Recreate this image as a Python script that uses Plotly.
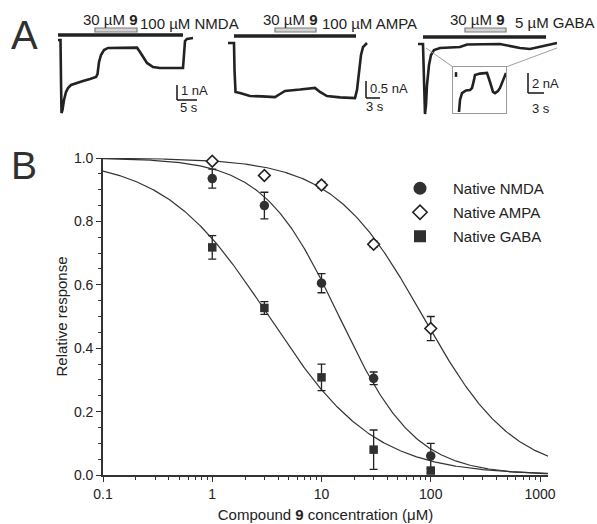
import numpy as np
import plotly.graph_objects as go

W, H = 597, 524
FONT = "Liberation Sans, Arial, Helvetica, sans-serif"
INK = "#222222"
GREY = "#7a7a7a"

# ---------------- Panel B data ----------------
conc = [1, 3, 10, 30, 100]                      # µM
nmda_mean = [0.935, 0.850, 0.605, 0.305, 0.060]
nmda_sem = [0.030, 0.042, 0.030, 0.020, 0.040]
ampa_mean = [0.990, 0.945, 0.915, 0.728, 0.462]
ampa_sem = [0.004, 0.004, 0.010, 0.010, 0.038]
gaba_mean = [0.718, 0.527, 0.308, 0.080, 0.014]
gaba_sem = [0.037, 0.020, 0.042, 0.062, 0.008]

# Hill fits drawn in the figure
fit_names = ["NMDA", "AMPA", "GABA"]
fit_ic50 = [14.5, 85.0, 3.3]
fit_hill = [1.25, 1.05, 0.9]

x_ticks = [0.1, 1, 10, 100, 1000]
x_ticklabels = ["0.1", "1", "10", "100", "1000"]
y_ticks = [0.0, 0.2, 0.4, 0.6, 0.8, 1.0]

# ---------------- Panel A traces (time in s, current in nA) ----------------
nmda_t = [0, 0.625, 0.75, 0.875, 1.125, 1.5, 2.0, 2.5, 3.25, 4.5, 6.25, 8.0, 9.5, 9.875,
          10.25, 10.75, 11.5, 12.5, 19.75, 20.5, 21.0, 22.25, 23.75, 25.5, 31.25, 31.5,
          31.75, 32.25, 33.75]
nmda_i = [0, 0, -2.67, -4.87, -4.67, -4.0, -3.47, -3.2, -3.0, -2.87, -2.73, -2.6, -2.47,
          -2.27, -1.47, -1.0, -0.67, -0.53, -0.51, -0.8, -1.0, -1.53, -1.8, -1.87, -1.87,
          -0.67, -0.07, 0.07, 0.13]
nmda_agonist = [0.0, 31.25]
nmda_cmpd = [9.25, 19.75]

ampa_t = [0, 1.125, 1.22, 1.41, 2.25, 4.125, 6.375, 8.81, 9.75, 10.69, 13.5, 16.31, 17.25,
          18.56, 21.0, 23.81, 24.19, 24.56, 24.94, 25.31, 26.06]
ampa_i = [0, 0, -0.79, -1.44, -1.47, -1.56, -1.57, -1.59, -1.5, -1.41, -1.37, -1.32, -1.44,
          -1.56, -1.6, -1.62, -1.38, -0.79, -0.35, -0.12, 0]
ampa_agonist = [1.125, 24.0]
ampa_cmpd = [8.81, 16.5]

gaba_t = [0, 0.9375, 1.125, 1.3125, 1.5, 1.6875, 2.0625, 2.4375, 3.0, 4.125, 7.875, 9.1875,
          15.375, 17.25, 19.125, 21.0, 22.875, 24.75, 26.06]
gaba_i = [0, 0, -3.6, -7.0, -6.1, -4.1, -2.1, -1.1, -0.6, -0.4, -0.3, -0.05, 0, -0.2, -0.4,
          -0.5, -0.3, -0.1, 0.1]
gaba_agonist = [0.94, 24.0]
gaba_cmpd = [8.81, 16.5]

inset_t = [2.78, 3.24, 4.17, 6.02, 7.87, 8.8, 9.72, 10.19, 12.5, 15.74, 17.13, 18.52, 19.44,
           20.83, 21.76, 23.15, 24.54]
inset_i = [-1.5, -1.1, -0.87, -0.78, -0.77, -0.7, -0.43, -0.27, -0.22, -0.2, -0.5, -0.83,
           -0.87, -0.8, -0.7, -0.43, -0.2]
inset_mark_t = [1.39, 1.39]
inset_mark_i = [-0.17, -0.33]

# scale bars: (nA, s, label nA, label s)
scale_nmda = (1.0, 5.0, "1 nA", "5 s")
scale_ampa = (0.5, 3.0, "0.5 nA", "3 s")
scale_gaba = (2.0, 3.0, "2 nA", "3 s")

# ---------------- layout helpers (pixel geometry) ----------------
def pxx(x):
    return x / W


def pxy(y):
    return 1 - y / H


class TraceFrame:
    def __init__(self, box, tx0, pps, py0, ppn):
        self.box, self.tx0, self.pps, self.py0, self.ppn = box, tx0, pps, py0, ppn

    def t(self, x):
        return (x - self.tx0) / self.pps

    def i(self, y):
        return -(y - self.py0) / self.ppn

    def axes(self, yname):
        x0, x1, y0, y1 = self.box
        xa = dict(domain=[pxx(x0), pxx(x1)], range=[self.t(x0), self.t(x1)], visible=False,
                  showgrid=False, zeroline=False, anchor=yname, automargin=False)
        ya = dict(domain=[pxy(y1), pxy(y0)], range=[self.i(y1), self.i(y0)], visible=False,
                  showgrid=False, zeroline=False, automargin=False)
        return xa, ya


f_nmda = TraceFrame((50, 215, 10, 120), 58, 4.0, 40, 15.0)
f_ampa = TraceFrame((220, 380, 10, 120), 228, 16 / 3, 43, 34.0)
f_gaba = TraceFrame((412, 562, 10, 120), 418, 16 / 3, 44, 10.0)
f_inset = TraceFrame((453, 506, 67, 113), 453, 2.16, 67, 30.0)

fig = go.Figure()

# ---------------- Panel B ----------------
xs = np.logspace(-1, 3.075, 400)
for name, ic, nh in zip(fit_names, fit_ic50, fit_hill):
    fig.add_trace(go.Scatter(x=xs, y=1 / (1 + (xs / ic) ** nh), mode="lines",
                             line=dict(color="#333333", width=1.2), showlegend=False,
                             hoverinfo="skip", xaxis="x", yaxis="y"))

err = dict(type="data", visible=True, thickness=1.3, width=4, color=INK)
pts = [
    ("Native NMDA", nmda_mean, nmda_sem, dict(symbol="circle", size=9.5, color="#303030"), 13),
    ("Native AMPA", ampa_mean, ampa_sem, dict(symbol="diamond", size=9, color="white",
                                              line=dict(color=INK, width=1.6)), 11),
    ("Native GABA", gaba_mean, gaba_sem, dict(symbol="square", size=8.5, color="#303030"), 12),
]
for name, m, s, mk, ls in pts:
    fig.add_trace(go.Scatter(x=conc, y=m, mode="markers", marker=mk,
                             error_y=dict(err, array=s), cliponaxis=False, showlegend=False,
                             name=name, xaxis="x", yaxis="y"))
# legend entries (larger symbols as in the figure)
for name, m, s, mk, ls in pts:
    mk2 = dict(mk)
    mk2["size"] = ls
    fig.add_trace(go.Scatter(x=[None], y=[None], mode="markers", marker=mk2, name=name,
                             legendgroup=name, showlegend=True, xaxis="x", yaxis="y"))

# ---------------- Panel A traces ----------------
panelA = [
    (f_nmda, "x2", "y2", nmda_t, nmda_i),
    (f_ampa, "x3", "y3", ampa_t, ampa_i),
    (f_gaba, "x4", "y4", gaba_t, gaba_i),
    (f_inset, "x5", "y5", inset_t, inset_i),
]
for fr, xa, ya, t, i in panelA:
    fig.add_trace(go.Scatter(x=t, y=i, mode="lines", line=dict(color=INK, width=2.6),
                             showlegend=False, hoverinfo="skip", xaxis=xa, yaxis=ya))
fig.add_trace(go.Scatter(x=inset_mark_t, y=inset_mark_i, mode="lines",
                         line=dict(color=INK, width=2.5), showlegend=False,
                         xaxis="x5", yaxis="y5"))

shapes = []
annots = []


def bars(fr, xr, yr, ag, cp, ybar, ycp):
    shapes.append(dict(type="line", xref=xr, yref=yr, x0=ag[0], x1=ag[1],
                       y0=fr.i(ybar), y1=fr.i(ybar), line=dict(color=INK, width=3.5)))
    shapes.append(dict(type="rect", xref=xr, yref=yr, x0=cp[0], x1=cp[1],
                       y0=fr.i(ycp + 2), y1=fr.i(ycp - 2), fillcolor="#d4d4d4",
                       line=dict(color=GREY, width=1.2)))


def scalebar(fr, xr, yr, sc, sx, sy, lab_i, lab_t):
    nA, sec, ln, ls = sc
    shapes.append(dict(type="line", xref=xr, yref=yr, x0=fr.t(sx), x1=fr.t(sx),
                       y0=fr.i(sy), y1=fr.i(sy) + nA, line=dict(color=INK, width=1.6)))
    shapes.append(dict(type="line", xref=xr, yref=yr, x0=fr.t(sx), x1=fr.t(sx) + sec,
                       y0=fr.i(sy), y1=fr.i(sy), line=dict(color=INK, width=1.6)))
    annots.append(dict(text=ln, x=pxx(lab_i[0]), y=pxy(lab_i[1]), xanchor="left",
                       yanchor="middle", font=dict(size=13)))
    annots.append(dict(text=ls, x=pxx(lab_t[0]), y=pxy(lab_t[1]), xanchor="center",
                       yanchor="middle", font=dict(size=13)))


bars(f_nmda, "x2", "y2", nmda_agonist, nmda_cmpd, 35, 30)
bars(f_ampa, "x3", "y3", ampa_agonist, ampa_cmpd, 36, 30)
bars(f_gaba, "x4", "y4", gaba_agonist, gaba_cmpd, 37, 30)
scalebar(f_nmda, "x2", "y2", scale_nmda, 177, 100, (179, 90), (189, 107))
scalebar(f_ampa, "x3", "y3", scale_ampa, 366, 98, (368, 88), (375, 106))
scalebar(f_gaba, "x4", "y4", scale_gaba, 528, 93, (530, 84), (541, 108))

# inset projection lines
for (xa, ya, xb, yb) in [(426, 48, 453, 67), (557, 48, 506, 67)]:
    shapes.append(dict(type="line", xref="paper", yref="paper", x0=pxx(xa), y0=pxy(ya),
                       x1=pxx(xb), y1=pxy(yb), line=dict(color="#a0a0a0", width=1)))

# panel A texts
for txt, cx, cy in [("30 µM <b>9</b>", 110, 20), ("100 µM NMDA", 189, 24),
                    ("30 µM <b>9</b>", 290, 20), ("100 µM AMPA", 369, 24),
                    ("30 µM <b>9</b>", 478, 20), ("5 µM GABA", 555, 23)]:
    annots.append(dict(text=txt, x=pxx(cx), y=pxy(cy), xanchor="center", yanchor="middle",
                       font=dict(size=15)))
annots.append(dict(text="A", x=pxx(24), y=pxy(35), xanchor="center", yanchor="middle",
                   font=dict(size=40, color="#303030")))
annots.append(dict(text="B", x=pxx(24), y=pxy(166), xanchor="center", yanchor="middle",
                   font=dict(size=39, color="#303030")))
for a in annots:
    a.update(xref="paper", yref="paper", showarrow=False)

x_minor = [m * 10 ** e for e in range(-1, 4) for m in range(2, 10) if m * 10 ** e < 1180]

layout = dict(
    width=W, height=H, margin=dict(l=0, r=0, t=0, b=0), autosize=False,
    paper_bgcolor="white", plot_bgcolor="rgba(0,0,0,0)",
    font=dict(family=FONT, color=INK, size=14),
    showlegend=True,
    legend=dict(x=pxx(387), y=pxy(172), xanchor="left", yanchor="top",
                bgcolor="rgba(0,0,0,0)", borderwidth=0, font=dict(size=15),
                itemwidth=56, traceorder="grouped", tracegroupgap=1.5),
    xaxis=dict(type="log", domain=[pxx(103), pxx(548)], range=[-1, np.log10(1000) + 8 / 109.25],
               tickvals=x_ticks, ticktext=x_ticklabels, ticks="outside", ticklen=5,
               tickwidth=1.4, tickcolor="#333", showline=True, linewidth=1.6, linecolor="#333",
               showgrid=False, zeroline=False, tickfont=dict(size=14), anchor="y",
               minor=dict(tickvals=x_minor, ticks="outside", ticklen=3, tickwidth=1,
                          tickcolor="#333", showgrid=False),
               title=dict(text="Compound <b>9</b> concentration (μM)", font=dict(size=15),
                          standoff=9),
               automargin=False),
    yaxis=dict(domain=[pxy(475), pxy(158)], range=[0, 1.0], tickvals=y_ticks,
               tickformat=".1f", ticks="outside", ticklen=5, tickwidth=1.4, tickcolor="#333",
               showline=True, linewidth=1.6, linecolor="#333", showgrid=False, zeroline=False,
               tickfont=dict(size=14), anchor="x",
               minor=dict(dtick=0.05, ticks="outside", ticklen=3, tickwidth=1,
                          tickcolor="#333", showgrid=False),
               title=dict(text="Relative response", font=dict(size=15), standoff=3),
               automargin=False),
    shapes=shapes, annotations=annots,
)
for k, (fr, xa, ya, t, i) in enumerate(panelA):
    ax, ay = fr.axes(ya)
    ay["anchor"] = xa
    layout["xaxis" + xa[1:]] = ax
    layout["yaxis" + ya[1:]] = ay
# inset frame
layout["xaxis5"].update(visible=True, showline=True, mirror=True, linecolor="#9a9a9a",
                        linewidth=1, ticks="", showticklabels=False)
layout["yaxis5"].update(visible=True, showline=True, mirror=True, linecolor="#9a9a9a",
                        linewidth=1, ticks="", showticklabels=False)

fig.update_layout(**layout)
fig.write_html("out.html", config={"displayModeBar": False},
               post_script="document.body.style.margin='0';document.body.style.overflow='hidden';")
